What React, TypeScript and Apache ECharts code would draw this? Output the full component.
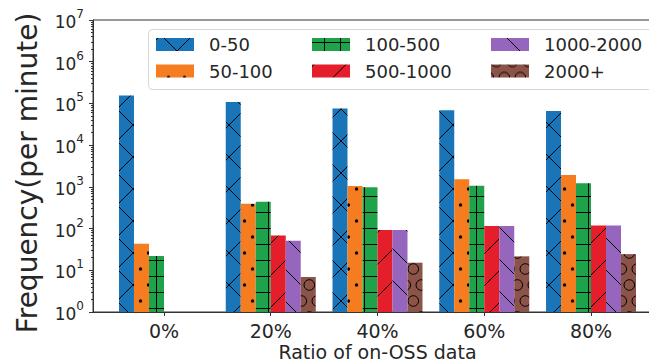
import React, { useEffect, useRef } from 'react';
import * as echarts from 'echarts';

// ---- data ----
const xLabels = ['0%', '20%', '40%', '60%', '80%'];
const xPositions = [0, 1, 2, 3, 4];
const seriesNames = ['0-50', '50-100', '100-500', '500-1000', '1000-2000', '2000+'];
const freq0to50 = [155000, 108000, 76000, 68500, 66000];
const freq50to100 = [43, 395, 1050, 1520, 1930];
const freq100to500 = [22, 441, 980, 1065, 1217];
const freq500to1000 = [null, 68, 92, 115, 118];
const freq1000to2000 = [null, 51, 92, 115, 118];
const freq2000plus = [null, 6.9, 15.2, 21.6, 24.4];
const yTickValues = [1, 10, 100, 1e3, 1e4, 1e5, 1e6, 1e7];

const seriesValues = [freq0to50, freq50to100, freq100to500, freq500to1000, freq1000to2000, freq2000plus];
const colors = ['#1a75b8', '#f57d1f', '#1ea24a', '#e41e2a', '#9665bd', '#8c5449'];
const hatches = ['x', '.', '+', '/', '\\', 'O'];

const FONT = 'DejaVu Sans';
const TEXT = '#262626';

function tile(w: number, h: number, bg: string, body: string) {
  const svg = `<svg xmlns='http://www.w3.org/2000/svg' width='${w}' height='${h}' viewBox='0 0 ${w} ${h}'><rect width='${w}' height='${h}' fill='${bg}'/>${body}</svg>`;
  return {
    image: 'data:image/svg+xml;charset=utf-8,' + encodeURIComponent(svg),
    repeat: 'repeat',
    imageWidth: w,
    imageHeight: h,
  };
}

function diag(c0: number, up: boolean) {
  // up: y = -x + c ; else y = x + c
  let d = '';
  for (let k = -3; k <= 3; k++) {
    const c = c0 + 32 * k;
    if (up) d += `M-4 ${c + 4}L36 ${c - 36}`;
    else d += `M-4 ${c - 4}L36 ${c + 36}`;
  }
  return `<path d='${d}' stroke='black' stroke-width='1' fill='none'/>`;
}

function makePattern(kind: string, bg: string) {
  if (kind === 'x') return tile(32, 32, bg, diag(24, false) + diag(2, true));
  if (kind === '/') return tile(32, 32, bg, diag(2, true));
  if (kind === '\\') return tile(32, 32, bg, diag(16, false));
  if (kind === '+') return tile(16, 16, bg, `<path d='M0 4.5H16M12.5 0V16' stroke='black' stroke-width='1' fill='none'/>`);
  if (kind === '.') {
    let s = '';
    const pts = [[12.5, 13], [28.5, 13], [4.5, 29], [20.5, 29]];
    for (const [x, y] of pts) s += `<circle cx='${x}' cy='${y}' r='1.7' fill='black'/>`;
    return tile(32, 32, bg, s);
  }
  // 'O'
  let s = '';
  const pts = [[5.3, 29], [21.3, 29], [13.3, 13], [29.3, 13]];
  for (const [x, y] of pts)
    for (const dx of [-32, 0, 32])
      for (const dy of [-32, 0, 32])
        s += `<circle cx='${x + dx}' cy='${y + dy}' r='5.3' fill='none' stroke='black' stroke-width='1'/>`;
  return tile(32, 32, bg, s);
}

const minorTickExps: number[] = [];
for (let k = 0; k < 7; k++) for (let m = 2; m <= 9; m++) minorTickExps.push(k + Math.log10(m));

export default function App() {
  const ref = useRef<HTMLDivElement>(null);
  useEffect(() => {
    if (!ref.current) return;
    const chart = echarts.init(ref.current, undefined, { renderer: 'svg' });
    const series = seriesNames.map((name, i) => ({
      name,
      type: 'bar',
      barWidth: 15,
      barGap: '0%',
      data: xPositions
        .map((x, j) => [x, seriesValues[i][j]])
        .filter((d) => d[1] !== null && d[1] !== undefined),
      itemStyle: { color: makePattern(hatches[i], colors[i]) },
      emphasis: { disabled: true },
    }));
    const legendCommon = {
      orient: 'vertical',
      padding: 0,
      top: 35.5,
      itemWidth: 38,
      itemHeight: 13,
      itemGap: 8.5,
      icon: 'rect',
      selectedMode: false,
      textStyle: { fontFamily: FONT, fontSize: 18, color: TEXT, padding: [0, 0, 0, 10] },
    };
    chart.setOption({
      animation: false,
      textStyle: { fontFamily: FONT },
      grid: {
        left: 93,
        top: 20,
        width: 569,
        height: 292,
        show: true,
        borderColor: '#333',
        borderWidth: 1,
        containLabel: false,
        outerBoundsMode: 'none',
      },
      legend: [
        { ...legendCommon, left: 156, data: [seriesNames[0], seriesNames[1]] },
        { ...legendCommon, left: 312, data: [seriesNames[2], seriesNames[3]] },
        { ...legendCommon, left: 491, data: [seriesNames[4], seriesNames[5]] },
      ],
      graphic: [
        {
          type: 'rect',
          z: 1,
          shape: { x: 148.5, y: 29.5, width: 540, height: 60, r: 4 },
          style: { fill: '#fff', stroke: '#d6d6d6', lineWidth: 1 },
        },
      ],
      xAxis: {
        type: 'value',
        min: -0.665,
        max: 4.665,
        name: 'Ratio of on-OSS data',
        nameLocation: 'middle',
        nameGap: 30,
        nameMoveOverlap: false,
        nameTextStyle: { fontFamily: FONT, fontSize: 19, lineHeight: 19, color: TEXT },
        axisLine: { show: true, onZero: false, lineStyle: { color: '#333', width: 1 } },
        axisTick: { show: true, customValues: xPositions, length: 4, lineStyle: { color: '#333' } },
        axisLabel: {
          customValues: xPositions,
          formatter: (v: number) => xLabels[xPositions.indexOf(Math.round(v))],
          fontFamily: FONT,
          fontSize: 19,
          lineHeight: 19,
          color: TEXT,
          margin: 9,
        },
        splitLine: { show: false },
      },
      yAxis: [
        {
          type: 'log',
          logBase: 10,
          min: 1,
          max: 1e7,
          name: 'Frequency(per minute)',
          nameLocation: 'middle',
          nameGap: 52,
          nameTextStyle: { fontFamily: FONT, fontSize: 28, color: TEXT, padding: [0, 14, 0, 0] },
          axisLine: { show: true, onZero: false, lineStyle: { color: '#333', width: 1 } },
          axisTick: { show: true, customValues: yTickValues, length: 4, lineStyle: { color: '#333' } },
          axisLabel: {
            customValues: yTickValues,
            margin: 9,
            formatter: (v: number) => `{b|10}{s|${Math.round(Math.log10(v))}}`,
            rich: {
              b: { fontFamily: FONT, fontSize: 17, color: TEXT, padding: [4, 0, 0, 0] },
              s: { fontFamily: FONT, fontSize: 12, color: TEXT, padding: [0, 0, 12, 0] },
            },
          },
          splitLine: { show: false },
        },
        {
          type: 'value',
          min: 0,
          max: 7,
          position: 'left',
          axisLine: { show: false, onZero: false },
          axisLabel: { show: false },
          splitLine: { show: false },
          axisTick: { show: true, customValues: minorTickExps, length: 2, lineStyle: { color: '#333' } },
        },
      ],
      series,
    });
    return () => chart.dispose();
  }, []);
  return (
    <div
      ref={ref}
      style={{ position: 'fixed', left: 0, top: 0, width: 649, height: 364, background: '#fff' }}
    />
  );
}
